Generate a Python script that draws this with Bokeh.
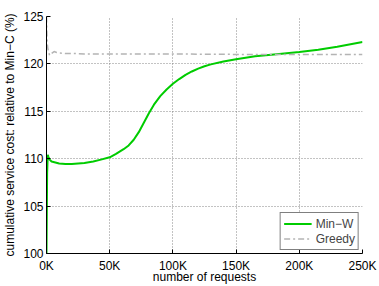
from bokeh.plotting import figure
from bokeh.models import FixedTicker, Range1d, Legend, LegendItem
from bokeh.embed import file_html
from bokeh.resources import INLINE

# Min-W series (number of requests, cost relative to Min-C in %)
minw_x = [0, 500, 1000, 1500, 2500, 4000, 7000, 10000, 15000, 20000, 25000, 30000,
          37000, 43000, 50000, 55000, 61000, 65000, 69000, 73000, 77000, 81000, 85000,
          90000, 95000, 100000, 105000, 110000, 115000, 120000, 125000, 130000, 140000,
          150000, 165000, 180000, 200000, 215000, 230000, 250000]
minw_y = [100, 108.5, 110.4, 110.2, 109.9, 109.7, 109.6, 109.5, 109.45, 109.45, 109.5, 109.55,
          109.7, 109.9, 110.15, 110.5, 111.0, 111.4, 112.0, 112.8, 113.8, 114.8, 115.7,
          116.6, 117.3, 117.9, 118.4, 118.85, 119.2, 119.5, 119.75, 119.95, 120.25,
          120.5, 120.8, 121.0, 121.25, 121.5, 121.8, 122.3]

# Greedy series
greedy_x = [0, 200, 500, 1000, 1500, 2500, 4000, 6000, 8000, 10000, 15000, 20000, 30000,
            50000, 100000, 150000, 200000, 250000]
greedy_y = [125, 123.5, 122.3, 121.7, 121.3, 120.9, 121.1, 121.3, 121.2, 121.15, 121.1, 121.1,
            121.05, 121.05, 121.05, 121.0, 121.0, 121.0]

x_ticks = [0, 50000, 100000, 150000, 200000, 250000]
x_tick_labels = ["0K", "50K", "100K", "150K", "200K", "250K"]
y_ticks = [100, 105, 110, 115, 120, 125]

FONT = "Liberation Sans"

p = figure(width=379, height=286, output_backend="svg", toolbar_location=None,
           x_range=Range1d(0, 250000), y_range=Range1d(100, 125),
           min_border_left=4, min_border_right=17, min_border_top=16, min_border_bottom=0)
p.outline_line_color = None
p.background_fill_color = "white"

r_min = p.line(minw_x, minw_y, line_color="#00cc00", line_width=2)
r_gr = p.line(greedy_x, greedy_y, line_color="#b4b4b4", line_width=1.5, line_dash="6 3 2 3")

for ax in (p.xaxis[0], p.yaxis[0]):
    ax.major_tick_in = 4
    ax.major_tick_out = 0
    ax.minor_tick_line_color = None
    ax.axis_line_color = "black"
    ax.major_tick_line_color = "black"
    ax.major_label_text_font = FONT
    ax.major_label_text_font_size = "12px"
    ax.major_label_text_color = "black"
    ax.axis_label_text_font = FONT
    ax.axis_label_text_font_size = "12px"
    ax.axis_label_text_font_style = "normal"
    ax.axis_label_text_color = "black"

p.xaxis.ticker = FixedTicker(ticks=x_ticks)
p.xaxis.major_label_overrides = {t: l for t, l in zip(x_ticks, x_tick_labels)}
p.yaxis.ticker = FixedTicker(ticks=y_ticks)
p.xaxis.axis_label = "number of requests"
p.yaxis.axis_label = "cumulative service cost: relative to Min\u2212C (%)"
p.xaxis.major_label_standoff = 5
p.xaxis.axis_label_standoff = -6
p.yaxis.major_label_standoff = 3
p.yaxis.axis_label_standoff = 3

for g in (p.xgrid[0], p.ygrid[0]):
    g.grid_line_color = "#7a7a7a"
    g.grid_line_dash = "1 2"
    g.grid_line_width = 1
    g.grid_line_alpha = 0.9

legend = Legend(items=[LegendItem(label="Min\u2212W", renderers=[r_min]),
                       LegendItem(label="Greedy", renderers=[r_gr])],
                location="bottom_right")
legend.margin = 3
legend.padding = 3
legend.spacing = 0
legend.glyph_width = 28
legend.glyph_height = 15
legend.label_standoff = 4
legend.label_height = 15
legend.label_text_font = FONT
legend.label_text_font_size = "12px"
legend.border_line_color = "black"
legend.border_line_width = 1.2
legend.background_fill_color = "white"
legend.background_fill_alpha = 1
p.add_layout(legend, "center")

open("out.html", "w").write(file_html(p, INLINE))
